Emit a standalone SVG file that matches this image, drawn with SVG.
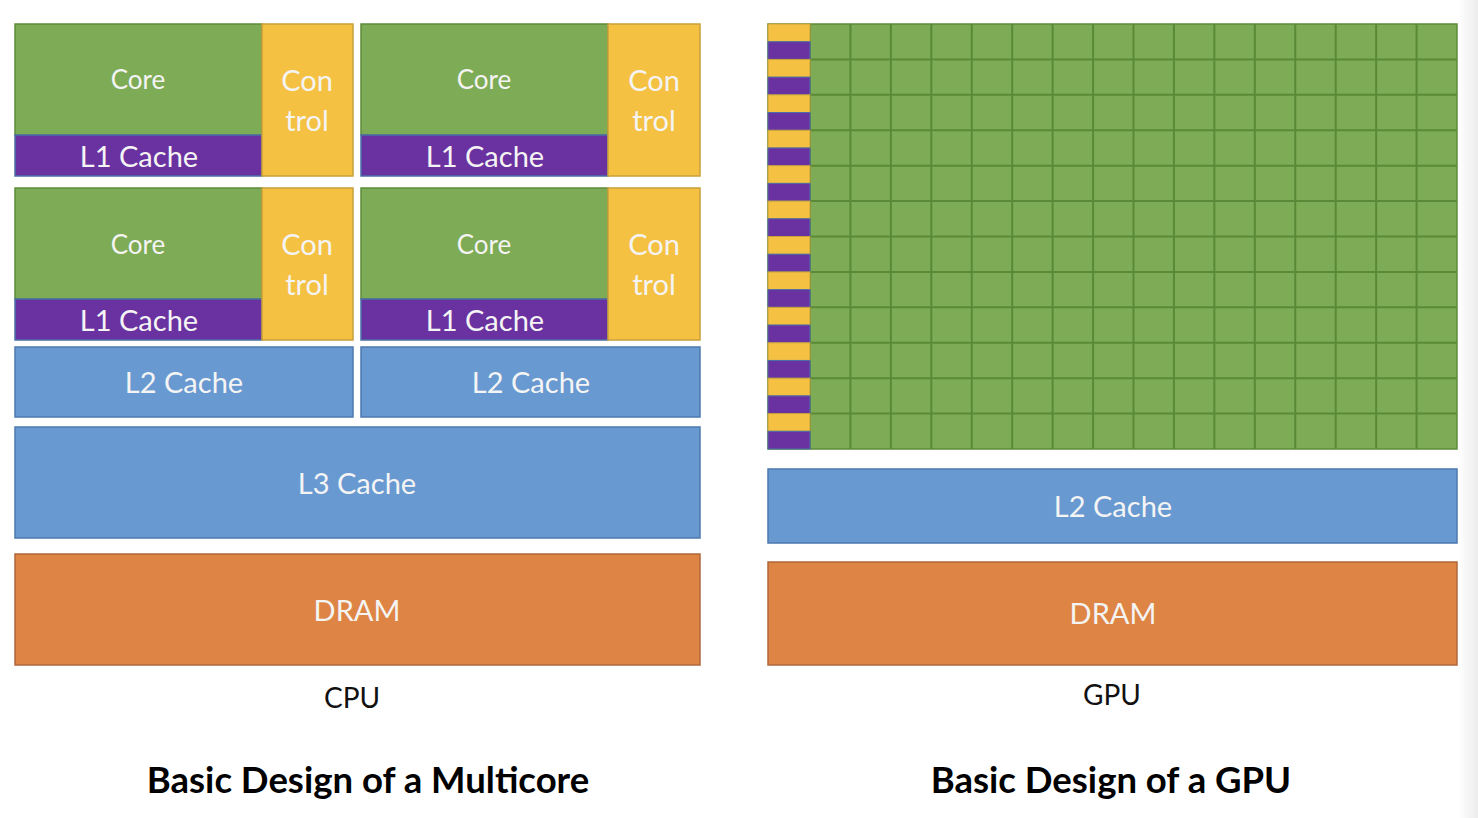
<svg xmlns="http://www.w3.org/2000/svg" xmlns:xlink="http://www.w3.org/1999/xlink" width="1478" height="818" viewBox="0 0 1478 818">
<style>
.core{fill:#7EAB55;stroke:#5E8C3A;stroke-width:1.5}
.l1{fill:#6A31A0;stroke:#4A6FA8;stroke-width:1.5}
.ctl{fill:#F5C143;stroke:#C9A03A;stroke-width:1.5}
.blue{fill:#6899D0;stroke:#4C78AE;stroke-width:1.5}
.dram{fill:#DE8444;stroke:#B0673A;stroke-width:1.5}
.lbl{font-family:Lato,"Liberation Sans",sans-serif;fill:#F4F4F4;text-anchor:middle}
.cap{font-family:Lato,"Liberation Sans",sans-serif;fill:#111;text-anchor:middle;font-size:28px}
.title{font-family:Lato,"Liberation Sans",sans-serif;fill:#000;text-anchor:middle;font-size:36.5px;font-weight:bold}
.grid{fill:none;stroke:#5A8A37;stroke-width:2}
</style>
<defs>
<linearGradient id="edge" x1="0" x2="1" y1="0" y2="0">
<stop offset="0" stop-color="#ffffff"/>
<stop offset="1" stop-color="#ececec"/>
</linearGradient>
<g id="sc">
<rect x="768" y="0" width="42" height="17.7" fill="#F5C143" stroke="#C9A03A" stroke-width="1"/>
<rect x="768" y="17.7" width="42" height="17.7" fill="#6A31A0" stroke="#4A6FA8" stroke-width="1"/>
</g>
</defs>
<rect width="1478" height="818" fill="#fff"/>
<rect x="1458" y="0" width="20" height="818" fill="url(#edge)"/>

<g id="cpu-core-1">
<rect class="core" x="15" y="24" width="247" height="111"/>
<rect class="l1" x="15" y="135" width="247" height="41"/>
<rect class="ctl" x="262" y="24" width="91" height="152"/>
<text class="lbl" x="138" y="89" font-size="26">Core</text>
<text class="lbl" x="139" y="167" font-size="29">L1 Cache</text>
<text class="lbl" x="307" y="91" font-size="29">Con</text>
<text class="lbl" x="307" y="131" font-size="29">trol</text>
</g>
<g id="cpu-core-2">
<rect class="core" x="361" y="24" width="247" height="111"/>
<rect class="l1" x="361" y="135" width="247" height="41"/>
<rect class="ctl" x="608" y="24" width="92" height="152"/>
<text class="lbl" x="484" y="89" font-size="26">Core</text>
<text class="lbl" x="485" y="167" font-size="29">L1 Cache</text>
<text class="lbl" x="654" y="91" font-size="29">Con</text>
<text class="lbl" x="654" y="131" font-size="29">trol</text>
</g>
<g id="cpu-core-3">
<rect class="core" x="15" y="188" width="247" height="111"/>
<rect class="l1" x="15" y="299" width="247" height="41"/>
<rect class="ctl" x="262" y="188" width="91" height="152"/>
<text class="lbl" x="138" y="254" font-size="26">Core</text>
<text class="lbl" x="139" y="331" font-size="29">L1 Cache</text>
<text class="lbl" x="307" y="255" font-size="29">Con</text>
<text class="lbl" x="307" y="295" font-size="29">trol</text>
</g>
<g id="cpu-core-4">
<rect class="core" x="361" y="188" width="247" height="111"/>
<rect class="l1" x="361" y="299" width="247" height="41"/>
<rect class="ctl" x="608" y="188" width="92" height="152"/>
<text class="lbl" x="484" y="254" font-size="26">Core</text>
<text class="lbl" x="485" y="331" font-size="29">L1 Cache</text>
<text class="lbl" x="654" y="255" font-size="29">Con</text>
<text class="lbl" x="654" y="295" font-size="29">trol</text>
</g>
<g id="cpu-l2-1">
<rect class="blue" x="15" y="347" width="338" height="70"/>
<text class="lbl" x="184" y="393" font-size="29">L2 Cache</text>
</g>
<g id="cpu-l2-2">
<rect class="blue" x="361" y="347" width="339" height="70"/>
<text class="lbl" x="531" y="393" font-size="29">L2 Cache</text>
</g>
<g id="cpu-l3">
<rect class="blue" x="15" y="427" width="685" height="111"/>
<text class="lbl" x="357" y="494" font-size="29">L3 Cache</text>
</g>
<g id="cpu-dram">
<rect class="dram" x="15" y="554" width="685" height="111"/>
<text class="lbl" x="357" y="621" font-size="29">DRAM</text>
</g>
<text class="cap" x="352" y="708">CPU</text>
<text class="title" x="368" y="793">Basic Design of a Multicore</text>

<g id="gpu-cores">
<rect x="768" y="24" width="689" height="425" fill="#7EAB55" stroke="#5E8C3A" stroke-width="1.5"/>
<path class="grid" d="M810 24V449M850.44 24V449M890.88 24V449M931.31 24V449M971.75 24V449M1012.19 24V449M1052.63 24V449M1093.06 24V449M1133.5 24V449M1173.94 24V449M1214.38 24V449M1254.81 24V449M1295.25 24V449M1335.69 24V449M1376.13 24V449M1416.56 24V449M810 59.42H1457M810 94.83H1457M810 130.25H1457M810 165.67H1457M810 201.08H1457M810 236.5H1457M810 271.92H1457M810 307.33H1457M810 342.75H1457M810 378.17H1457M810 413.58H1457"/>
</g>
<g id="gpu-control-cache">
<use xlink:href="#sc" y="24"/>
<use xlink:href="#sc" y="59.42"/>
<use xlink:href="#sc" y="94.83"/>
<use xlink:href="#sc" y="130.25"/>
<use xlink:href="#sc" y="165.67"/>
<use xlink:href="#sc" y="201.08"/>
<use xlink:href="#sc" y="236.5"/>
<use xlink:href="#sc" y="271.92"/>
<use xlink:href="#sc" y="307.33"/>
<use xlink:href="#sc" y="342.75"/>
<use xlink:href="#sc" y="378.17"/>
<use xlink:href="#sc" y="413.58"/>
</g>
<g id="gpu-l2">
<rect class="blue" x="768" y="469" width="689" height="74"/>
<text class="lbl" x="1113" y="517" font-size="29">L2 Cache</text>
</g>
<g id="gpu-dram">
<rect class="dram" x="768" y="562" width="689" height="103"/>
<text class="lbl" x="1113" y="624" font-size="29">DRAM</text>
</g>
<text class="cap" x="1112" y="705">GPU</text>
<text class="title" x="1111" y="793">Basic Design of a GPU</text>
</svg>
